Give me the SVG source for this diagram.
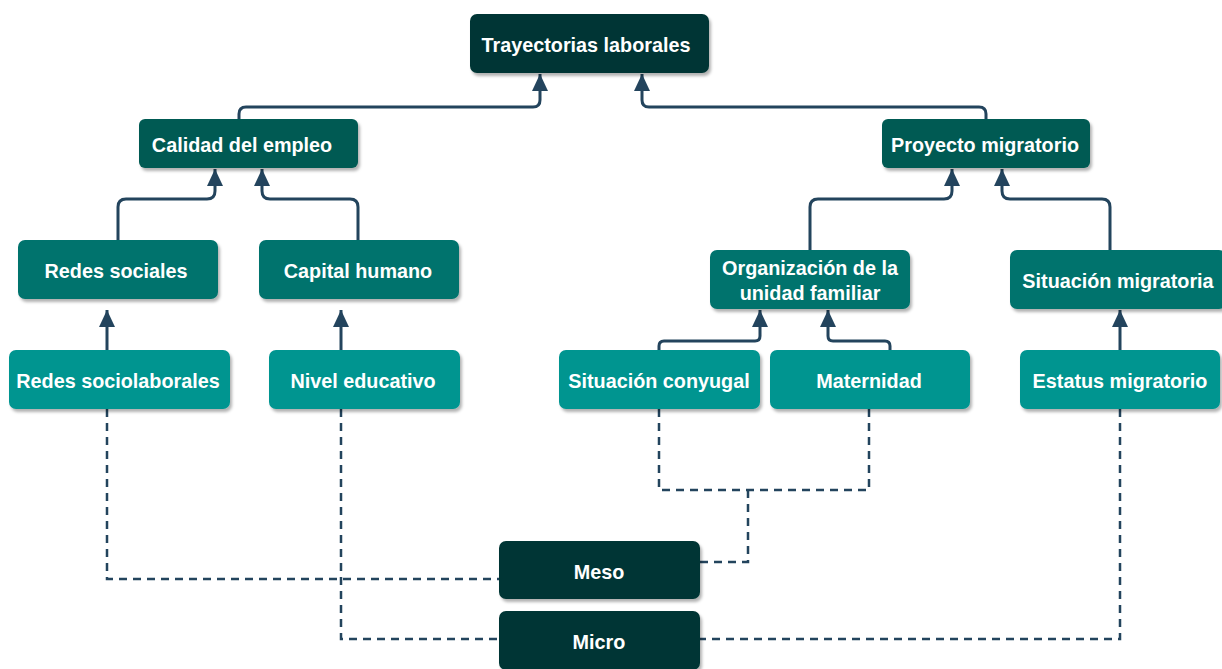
<svg xmlns="http://www.w3.org/2000/svg" width="1222" height="669" viewBox="0 0 1222 669">
<style>
.n rect.b{stroke:none}
.l1{fill:#063634}
.l2{fill:#005a52}
.l3{fill:#00736d}
.l4{fill:#009590}
.t{font-family:"Liberation Sans",Arial,sans-serif;font-weight:bold;font-size:19.8px;fill:#ffffff;text-anchor:middle;dominant-baseline:central}
.c{fill:none;stroke:#23445d;stroke-width:3;stroke-linejoin:round}
.d{fill:none;stroke:#23445d;stroke-width:2.5;stroke-dasharray:8 6}
</style>
<defs>
<filter id="sh" x="-10%" y="-10%" width="130%" height="140%">
<feDropShadow dx="2" dy="3" stdDeviation="1.5" flood-color="#000" flood-opacity="0.3"/>
</filter>
<marker id="ar" markerUnits="userSpaceOnUse" markerWidth="17" markerHeight="16" refX="17" refY="8" orient="auto">
<path d="M0,0 L17,8 L0,16 z" fill="#23445d"/>
</marker>
</defs>
<rect width="1222" height="669" fill="#ffffff"/>
<g id="connectors">
<path class="c" marker-end="url(#ar)" d="M239,119 V114 Q239,107 246,107 H533 Q540,107 540,100 V74"/>
<path class="c" marker-end="url(#ar)" d="M986,119 V114 Q986,107 979,107 H649 Q642,107 642,100 V74"/>
<path class="c" marker-end="url(#ar)" d="M118,240 V207 Q118,199 126,199 H207 Q215,199 215,191 V169"/>
<path class="c" marker-end="url(#ar)" d="M358,240 V207 Q358,199 350,199 H270 Q262,199 262,191 V169"/>
<path class="c" marker-end="url(#ar)" d="M810,250 V207 Q810,199 818,199 H944 Q952,199 952,191 V169"/>
<path class="c" marker-end="url(#ar)" d="M1110,250 V207 Q1110,199 1102,199 H1010 Q1002,199 1002,191 V169"/>
<path class="c" marker-end="url(#ar)" d="M107,350 V310"/>
<path class="c" marker-end="url(#ar)" d="M341,350 V310"/>
<path class="c" marker-end="url(#ar)" d="M659,350 V346 Q659,341 664,341 H755 Q760,341 760,336 V310"/>
<path class="c" marker-end="url(#ar)" d="M890,350 V346 Q890,341 885,341 H833 Q828,341 828,336 V310"/>
<path class="c" marker-end="url(#ar)" d="M1120,350 V310"/>
<path class="d" d="M107,409 V579 H499"/>
<path class="d" d="M341,409 V639 H499"/>
<path class="d" d="M659,409 V490 H869 V409"/>
<path class="d" d="M748,490 V562 H700"/>
<path class="d" d="M1120,409 V639 H700"/>
</g>
<g id="n-trayectorias" class="n"><rect class="b l1" filter="url(#sh)" x="470" y="14" width="239" height="59" rx="7"/><text class="t" x="586" y="45">Trayectorias laborales</text></g>
<g id="n-calidad" class="n"><rect class="b l2" filter="url(#sh)" x="139" y="119" width="219" height="49" rx="6"/><text class="t" x="242" y="145">Calidad del empleo</text></g>
<g id="n-proyecto" class="n"><rect class="b l2" filter="url(#sh)" x="882" y="119" width="208" height="49" rx="6"/><text class="t" x="985" y="145">Proyecto migratorio</text></g>
<g id="n-redes-sociales" class="n"><rect class="b l3" filter="url(#sh)" x="18" y="240" width="200" height="59" rx="7"/><text class="t" x="116" y="271">Redes sociales</text></g>
<g id="n-capital" class="n"><rect class="b l3" filter="url(#sh)" x="259" y="240" width="200" height="59" rx="7"/><text class="t" x="358" y="271">Capital humano</text></g>
<g id="n-organizacion" class="n"><rect class="b l3" filter="url(#sh)" x="710" y="250" width="200" height="59" rx="7"/><text class="t" x="810" y="268">Organización de la</text><text class="t" x="810" y="293">unidad familiar</text></g>
<g id="n-situacion-migratoria" class="n"><rect class="b l3" filter="url(#sh)" x="1010" y="250" width="216" height="59" rx="7"/><text class="t" x="1118" y="281">Situación migratoria</text></g>
<g id="n-redes-socio" class="n"><rect class="b l4" filter="url(#sh)" x="9" y="350" width="221" height="59" rx="7"/><text class="t" x="118" y="381">Redes sociolaborales</text></g>
<g id="n-nivel" class="n"><rect class="b l4" filter="url(#sh)" x="269" y="350" width="191" height="59" rx="7"/><text class="t" x="363" y="381">Nivel educativo</text></g>
<g id="n-conyugal" class="n"><rect class="b l4" filter="url(#sh)" x="559" y="350" width="201" height="59" rx="7"/><text class="t" x="659" y="381">Situación conyugal</text></g>
<g id="n-maternidad" class="n"><rect class="b l4" filter="url(#sh)" x="770" y="350" width="200" height="59" rx="7"/><text class="t" x="869" y="381">Maternidad</text></g>
<g id="n-estatus" class="n"><rect class="b l4" filter="url(#sh)" x="1020" y="350" width="200" height="59" rx="7"/><text class="t" x="1120" y="381">Estatus migratorio</text></g>
<g id="n-meso" class="n"><rect class="b l1" filter="url(#sh)" x="499" y="541" width="201" height="58" rx="7"/><text class="t" x="599" y="572">Meso</text></g>
<g id="n-micro" class="n"><rect class="b l1" filter="url(#sh)" x="499" y="611" width="201" height="59" rx="7"/><text class="t" x="599" y="642">Micro</text></g>
</svg>
